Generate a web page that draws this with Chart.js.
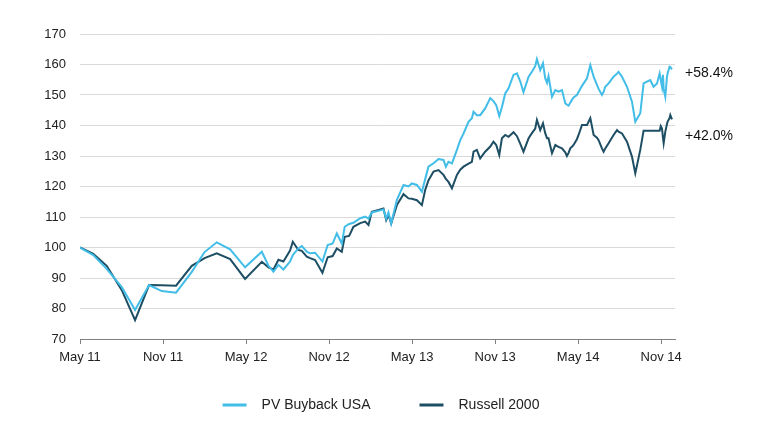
<!DOCTYPE html>
<html>
<head>
<meta charset="utf-8">
<script src="https://cdn.jsdelivr.net/npm/chart.js@4.4.1/dist/chart.umd.min.js"></script>
<style>
  html, body { margin: 0; padding: 0; background: #fff; }
  #wrap { width: 762px; height: 429px; }
</style>
</head>
<body>
<div id="wrap"><canvas id="canvas" width="762" height="429"></canvas></div>
<script>
//--Datos----------------------------
// months since May 2011
var months = [0, 0.96, 1.93, 3.02, 3.98, 4.99, 5.91, 6.94, 8.08, 9.00, 9.88, 10.85, 11.93, 13.14, 13.62, 13.98,
  14.34, 14.70, 15.18, 15.38, 15.78, 16.03, 16.39, 16.63, 16.99, 17.52, 17.90, 18.26, 18.56, 18.92, 19.13, 19.45,
  19.76, 20.25, 20.61, 20.85, 21.09, 21.57, 21.93, 22.13, 22.29, 22.49, 22.90, 23.38, 23.74, 23.98, 24.35, 24.71,
  24.95, 25.18, 25.55, 25.91, 26.27, 26.44, 26.63, 26.88, 27.24, 27.48, 27.72, 28.08, 28.32, 28.44, 28.68, 28.92,
  29.28, 29.65, 29.88, 30.08, 30.30, 30.49, 30.73, 30.97, 31.33, 31.58, 31.82, 32.05, 32.42, 32.66, 32.90, 33.02,
  33.26, 33.46, 33.62, 33.75, 33.86, 34.11, 34.35, 34.58, 34.83, 35.07, 35.19, 35.31, 35.43, 35.55, 35.67, 35.91,
  36.03, 36.28, 36.64, 36.88, 37.12, 37.36, 37.48, 37.72, 37.84, 37.96, 38.20, 38.56, 38.81, 38.92, 39.17, 39.53,
  39.89, 40.13, 40.49, 40.73, 40.97, 41.21, 41.45, 41.70, 41.89, 41.97, 42.06, 42.13, 42.18, 42.30, 42.42, 42.46,
  42.61, 42.66, 42.78];

var pvBuyback = [100, 97.5, 93, 87, 79.5, 87.7, 85.7, 85.2, 92, 98.5, 101.7, 99.4, 93.5, 98.6, 94, 92.1,
  94.3, 92.8, 95.4, 97.5, 99.7, 100.5, 98.6, 98.1, 98.3, 95.4, 100.8, 101.3, 104.6, 101.3, 106.8, 107.7,
  108.1, 109.6, 110.1, 109.5, 111.5, 112, 112.5, 109.5, 111.5, 107.9, 115.6, 120.5, 120, 121, 120.5, 118.3,
  122.5, 126.5, 127.6, 129, 128.7, 126.5, 128.1, 127.6, 132, 135.2, 137.4, 141.2, 142.4, 144.5, 143.4, 143.4,
  145.6, 149, 148, 146.7, 143.1, 146, 150.5, 152.2, 156.6, 157.1, 154.4, 150.9, 156, 157.6, 159.5, 161.8,
  158.2, 160.4, 155.5, 154, 156.2, 149.4, 151.6, 151.1, 151.6, 147.3, 146.8, 146.5, 147.5, 148.4, 149.2, 150,
  151, 153, 155.5, 159.8, 156, 153.3, 152, 150, 151, 152.7, 153.8, 156, 157, 157.6, 156, 152.7,
  147.8, 141.2, 144, 153.8, 154.4, 154.9, 152.7, 153.8, 157.1, 155, 152.7, 156.6, 152, 149.4, 156, 157,
  159.3, 159.2, 158.4];

var russell2000 = [100, 97.9, 94, 86, 76.2, 87.7, 87.6, 87.5, 94, 96.5, 98.1, 96.2, 89.7, 95.3, 93.5, 92.8,
  96, 95.4, 99, 101.9, 99.2, 98.9, 97, 96.5, 95.9, 91.7, 96.8, 97.2, 99.7, 98.6, 103.5, 103.8,
  106.8, 108, 108.5, 107.4, 111.7, 112.3, 112.8, 109, 110.7, 107.9, 113.9, 117.5, 116.1, 116, 115.5, 113.9,
  118.9, 122, 124.9, 125.4, 123.8, 122.5, 121.5, 119.4, 123.8, 125.5, 126.5, 127.5, 128.1, 131.4, 132, 129.2,
  131.4, 133.1, 134.7, 133.6, 130.3, 135.8, 136.9, 136.3, 137.8, 136.5, 134, 131.4, 135.8, 137.5, 139, 141.8,
  138.5, 140.7, 137.5, 135.8, 135.8, 130.9, 133.6, 133, 132.5, 131.2, 130, 131, 132.5, 133, 133.6, 135.5,
  136.9, 140.2, 140.2, 142.4, 136.9, 136, 135.2, 132.5, 131.4, 132.5, 134.2, 136.9, 138.5, 138, 137.4, 134.7,
  129.8, 124.3, 132, 138.3, 138.3, 138.3, 138.3, 138.3, 138.3, 139.8, 139, 136, 134.2, 138, 140.5, 141.2,
  142.5, 143.4, 142];

var tickLabels = ['May 11', 'Nov 11', 'May 12', 'Nov 12', 'May 13', 'Nov 13', 'May 14', 'Nov 14'];
var seriesNames = ['PV Buyback USA', 'Russell 2000'];
var endLabels = ['+58.4%', '+42.0%'];

var colLight = '#41bde8';
var colDark = '#1d4e63';
var txtFont = '"Liberation Sans", Arial, sans-serif';

function toPoints(vals){
    return months.map(function(m, i){ return {x: m, y: vals[i]}; });
};

//--Etiquetas finales y leyenda----------------------------
var extrasPlugin = {
    id: 'extras',
    afterDraw: function(chart){
        var ctx = chart.ctx;
        var area = chart.chartArea;
        var yS = chart.scales.y;
        ctx.save();
        ctx.fillStyle = '#111';
        ctx.font = '14px ' + txtFont;
        ctx.textAlign = 'left';
        ctx.textBaseline = 'middle';
        // labels sit a bit off the last points, as in the original
        ctx.fillText(endLabels[0], area.right + 10, yS.getPixelForValue(157.2));
        ctx.fillText(endLabels[1], area.right + 10, yS.getPixelForValue(136.6));

        // legend
        var cols = [colLight, colDark];
        var lineW = 24, gapTxt = 15, gapItem = 49;
        var widths = seriesNames.map(function(t){ return ctx.measureText(t).width; });
        var total = lineW * 2 + gapTxt * 2 + widths[0] + widths[1] + gapItem;
        var x = (chart.width - total) / 2;
        var y = 405;
        for (var i = 0; i < seriesNames.length; i++) {
            ctx.strokeStyle = cols[i];
            ctx.lineWidth = 3;
            ctx.beginPath();
            ctx.moveTo(x, y);
            ctx.lineTo(x + lineW, y);
            ctx.stroke();
            ctx.fillStyle = '#222';
            ctx.fillText(seriesNames[i], x + lineW + gapTxt, y);
            x += lineW + gapTxt + widths[i] + gapItem;
        }
        ctx.restore();
    }
};

var ctx = document.getElementById('canvas').getContext('2d');
var myChart = new Chart(ctx, {
    type: 'line',
    data: {
        datasets: [{
            label: seriesNames[0],
            data: toPoints(pvBuyback),
            borderColor: colLight,
            backgroundColor: colLight,
            borderWidth: 2,
            pointRadius: 0,
            tension: 0,
            fill: false
        }, {
            label: seriesNames[1],
            data: toPoints(russell2000),
            borderColor: colDark,
            backgroundColor: colDark,
            borderWidth: 2,
            pointRadius: 0,
            tension: 0,
            fill: false
        }]
    },
    options: {
        responsive: false,
        animation: false,
        layout: { padding: { left: 0, right: 87, top: 34, bottom: 0 } },
        plugins: {
            legend: { display: false },
            tooltip: { enabled: false }
        },
        scales: {
            x: {
                type: 'linear',
                min: 0,
                max: 43,
                afterFit: function(scale){ scale.height = 90; },
                afterBuildTicks: function(scale){
                    scale.ticks = tickLabels.map(function(t, i){ return {value: i * 6}; });
                },
                grid: {
                    drawOnChartArea: false,
                    drawTicks: true,
                    tickLength: 5,
                    color: '#808080'
                },
                border: { display: true, color: '#808080', width: 1 },
                ticks: {
                    autoSkip: false,
                    maxRotation: 0,
                    padding: 6,
                    color: '#222',
                    font: { family: txtFont, size: 13 },
                    callback: function(v){
                        return tickLabels[Math.round(v / 6)];
                    }
                }
            },
            y: {
                min: 70,
                max: 170,
                afterFit: function(scale){ scale.width = 80; },
                grid: { color: '#d9d9d9', drawTicks: false },
                border: { display: false },
                ticks: {
                    stepSize: 10,
                    padding: 14,
                    color: '#222',
                    font: { family: txtFont, size: 13 }
                }
            }
        }
    },
    plugins: [extrasPlugin]
});
</script>
</body>
</html>
